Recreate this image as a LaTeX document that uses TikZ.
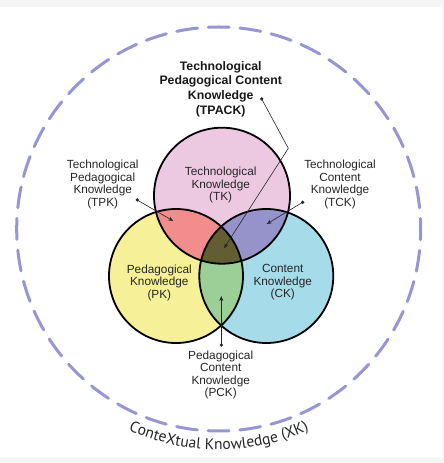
\documentclass[tikz,border=0pt]{standalone}
\usepackage{fontspec}
\setmainfont{Liberation Sans}
\newfontfamily\xkfont{PT Sans}
\usetikzlibrary{arrows.meta, decorations.text, calc}
\definecolor{tkpink}{RGB}{237,201,225}
\definecolor{pkyellow}{RGB}{246,240,152}
\definecolor{ckblue}{RGB}{166,219,233}
\definecolor{tpkred}{RGB}{241,141,141}
\definecolor{tckviolet}{RGB}{150,146,202}
\definecolor{pckgreen}{RGB}{156,206,152}
\definecolor{tpackolive}{RGB}{99,94,50}
\definecolor{xklilac}{RGB}{150,150,212}
\definecolor{pagegray}{RGB}{245,245,245}

\begin{document}
\begin{tikzpicture}[x=1pt, y=1pt,
    lbl/.style={font=\fontsize{11.8}{12.5}\selectfont, text=black!85, align=center, inner sep=0pt},
    title/.style={font=\fontsize{12.3}{14.8}\selectfont\bfseries, text=black!90, align=center, inner sep=0pt},
    ring/.style={draw=black, line width=1.8pt},
    ptr/.style={-{Stealth[length=5pt, width=4pt]}, line width=0.6pt, black!85},
    pin/.style={circle, fill=black!85, inner sep=0pt, minimum size=3.6pt}
  ]
    \useasboundingbox (0,0) rectangle (444,463);
    \fill[pagegray] (0,0) rectangle (444,463);
    \fill[white] (0,6) rectangle (442,456);

    \coordinate (xkc) at (218.7,234);
    \coordinate (tkc) at (222,267.3);
    \coordinate (pkc) at (176,187);
    \coordinate (ckc) at (266.3,187);

    \draw[xklilac, line width=3pt, line cap=round, dash pattern=on 21pt off 10.73pt, dash phase=10.5pt]
      (xkc) circle[radius=202];
    \path[decorate, decoration={text along path, text align=center,
        text={|\xkfont\fontsize{15.6}{15.6}\selectfont\color{black!85}|ConteXtual Knowledge (XK)}}]
      ($(xkc)+(230:220.5)$) arc[start angle=230, end angle=310, radius=220.5];

    \fill[tkpink] (tkc) circle[radius=68];
    \fill[pkyellow] (pkc) circle[radius=67];
    \fill[ckblue] (ckc) circle[radius=67];
    \begin{scope}
      \clip (tkc) circle[radius=68];
      \fill[tpkred] (pkc) circle[radius=67];
      \fill[tckviolet] (ckc) circle[radius=67];
    \end{scope}
    \begin{scope}
      \clip (pkc) circle[radius=67];
      \fill[pckgreen] (ckc) circle[radius=67];
      \clip (ckc) circle[radius=67];
      \fill[tpackolive] (tkc) circle[radius=68];
    \end{scope}
    \draw[ring] (tkc) circle[radius=68];
    \draw[ring] (pkc) circle[radius=67];
    \draw[ring] (ckc) circle[radius=67];

    \node[lbl] (tk) at (220.7,277.7) {Technological\\Knowledge\\(TK)};
    \node[lbl] (pk) at (159.3,180.5) {Pedagogical\\Knowledge\\(PK)};
    \node[lbl] (ck) at (282.7,180.5) {Content\\Knowledge\\(CK)};

    \node[title] (tpack) at (220.7,373.8) {Technological\\Pedagogical Content\\Knowledge\\(TPACK)};
    \node[lbl] (tpk) at (102.7,278.5) {Technological\\Pedagogical\\Knowledge\\(TPK)};
    \node[lbl] (tck) at (340,278.5) {Technological\\Content\\Knowledge\\(TCK)};
    \node[lbl] (pck) at (220.7,88) {Pedagogical\\Content\\Knowledge\\(PCK)};

    \node[pin] (tpackpin) at (261.7,364) {};
    \node[pin] (tpkpin) at (137.3,263) {};
    \node[pin] (tckpin) at (302.7,260.7) {};
    \node[pin] (pckpin) at (221.3,118) {};
    \coordinate (tpackbend) at (288.3,314.7);
    \coordinate (tpackend) at (224,214.7);
    \coordinate (tpkend) at (173.3,242);
    \coordinate (tckend) at (266.7,239);
    \coordinate (pckend) at (221.3,167);

    \draw[ptr] (tpackpin.center) -- (tpackbend) -- (tpackend);
    \draw[ptr] (tpkpin.center) -- (tpkend);
    \draw[ptr] (tckpin.center) -- (tckend);
    \draw[ptr] (pckpin.center) -- (pckend);
  \end{tikzpicture}
\end{document}
